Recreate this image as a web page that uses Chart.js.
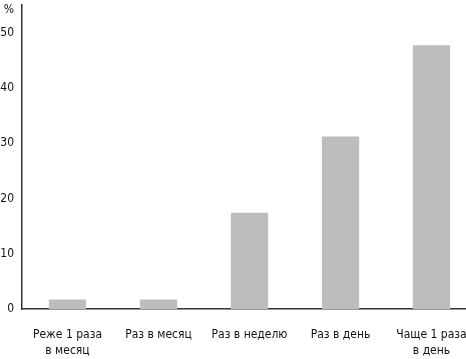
<!DOCTYPE html>
<html>
<head>
<meta charset="utf-8">
<script src="https://cdn.jsdelivr.net/npm/chart.js@4"></script>
<style>
	html, body { margin: 0; padding: 0; background: #fff; overflow: hidden; }
	#wrap { width: 480px; height: 359px; }
</style>
</head>
<body>
<div id="wrap"><canvas id="chart"></canvas></div>
<script>
	var categories = [
		['Реже 1 раза', 'в месяц'],
		'Раз в месяц',
		'Раз в неделю',
		'Раз в день',
		['Чаще 1 раза', 'в день'],
	];
	var shares = [1.7, 1.7, 17.4, 31.2, 47.7];
	var yTicks = [0, 10, 20, 30, 40, 50];
	var unitLabel = '%';
	var unitPos = 54.2;

	var font = "'Liberation Sans Narrow', 'DejaVu Sans Condensed', sans-serif";

	new Chart(document.getElementById('chart'), {
		type: 'bar',
		data: {
			labels: categories,
			datasets: [{
				data: shares,
				backgroundColor: '#bdbdbd',
				barPercentage: 0.41,
				categoryPercentage: 1,
			}],
		},
		options: {
			responsive: true,
			maintainAspectRatio: false,
			animation: false,
			layout: { padding: { top: 5, bottom: 0, left: 0, right: 3 } },
			plugins: { legend: { display: false }, tooltip: { enabled: false } },
			scales: {
				x: {
					grid: { display: false, drawTicks: false },
					border: { color: '#333', width: 1.5 },
					afterFit(scale) {
						scale.height = 50;
						scale.paddingLeft = 0;
						scale.paddingRight = 0;
					},
					ticks: {
						color: '#111',
						padding: 17,
						maxRotation: 0,
						autoSkip: false,
						font: { family: font, size: 12, lineHeight: 1.4 },
					},
				},
				y: {
					min: 0,
					max: 55,
					grid: { display: false, drawTicks: false },
					border: { color: '#333', width: 1.5 },
					afterBuildTicks(scale) {
						scale.ticks = yTicks.map(function(v) { return { value: v }; });
						scale.ticks.push({ value: unitPos });
					},
					afterFit(scale) {
						scale.width = 22;
						scale.paddingTop = 0;
						scale.paddingBottom = 0;
					},
					ticks: {
						color: '#111',
						padding: 8,
						font: { family: font, size: 12 },
						callback(value) {
							return value === unitPos ? unitLabel : value;
						},
					},
				},
			},
		},
	});
</script>
</body>
</html>
